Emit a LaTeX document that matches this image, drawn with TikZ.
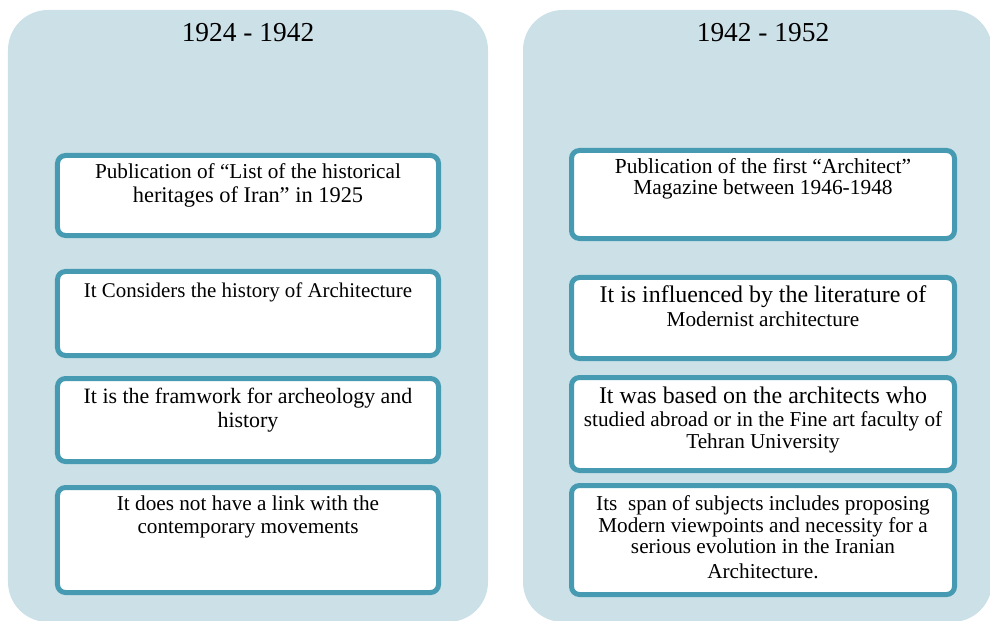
\documentclass[tikz,border=0pt]{standalone}
\usepackage{fontspec}
\setmainfont{Liberation Serif}
\usetikzlibrary{calc}
\definecolor{panelfill}{RGB}{204,224,231}
\definecolor{boxline}{RGB}{70,154,178}
\tikzset{
  panel/.style={fill=panelfill, draw=none, rounded corners=40bp, inner sep=0pt},
  card/.style={draw=boxline, line width=5bp, fill=white, rounded corners=8bp, inner sep=0pt},
  ln/.style={anchor=base, inner sep=0pt, text=black},
}
\newcommand{\fsz}[1]{\fontsize{#1}{#1}\selectfont}
\begin{document}
\begin{tikzpicture}[x=1bp,y=-1bp]
\useasboundingbox (0,0) rectangle (990,621);
% panels
\node[panel, minimum width=480bp, minimum height=612bp] (p1) at (248,316) {};
\node[panel, minimum width=469bp, minimum height=612bp] (p2) at (757.5,316) {};
% titles
\node[ln, font=\fsz{27.5}] (t1) at (248,42) {1924 - 1942};
\node[ln, font=\fsz{27.5}] (t2) at (763,42) {1942 - 1952};
% left cards
\node[card, minimum width=381bp, minimum height=80bp] (l1) at (248,195.5) {};
\node[card, minimum width=381bp, minimum height=84bp] (l2) at (248,313.5) {};
\node[card, minimum width=381bp, minimum height=83bp] (l3) at (248,420) {};
\node[card, minimum width=381bp, minimum height=105bp] (l4) at (248,540) {};
% right cards
\node[card, minimum width=383bp, minimum height=88bp] (r1) at (763,194.5) {};
\node[card, minimum width=383bp, minimum height=81bp] (r2) at (763,318) {};
\node[card, minimum width=383bp, minimum height=93bp] (r3) at (763,424) {};
\node[card, minimum width=383bp, minimum height=109bp] (r4) at (763,540) {};
% left texts
\node[ln, font=\fsz{21.3}] (l1a) at (248,179) {Publication of “List of the historical};
\node[ln, font=\fsz{22.5}] (l1b) at (248,203) {heritages of Iran” in 1925};
\node[ln, font=\fsz{21}] (l2a) at (248,297) {It Considers the history of Architecture};
\node[ln, font=\fsz{22}] (l3a) at (248,403) {It is the framwork for archeology and};
\node[ln, font=\fsz{22}] (l3b) at (248,427) {history};
\node[ln, font=\fsz{21.3}] (l4a) at (248,510) {It does not have a link with the};
\node[ln, font=\fsz{21.3}] (l4b) at (248,533) {contemporary movements};
% right texts
\node[ln, font=\fsz{21.5}] (r1a) at (763,174) {Publication of the first “Architect”};
\node[ln, font=\fsz{21.5}] (r1b) at (763,195) {Magazine between 1946-1948};
\node[ln, font=\fsz{24}] (r2a) at (763,302) {It is influenced by the literature of};
\node[ln, font=\fsz{21.3}] (r2b) at (763,326) {Modernist architecture};
\node[ln, font=\fsz{24}] (r3a) at (763,403) {It was based on the architects who};
\node[ln, font=\fsz{21.3}] (r3b) at (763,426) {studied abroad or in the Fine art faculty of};
\node[ln, font=\fsz{21.3}] (r3c) at (763,448) {Tehran University};
\node[ln, font=\fsz{21.3}] (r4a) at (763,510) {Its\ \ span of subjects includes proposing};
\node[ln, font=\fsz{21.3}] (r4b) at (763,532) {Modern viewpoints and necessity for a};
\node[ln, font=\fsz{21.3}] (r4c) at (763,553) {serious evolution in the Iranian};
\node[ln, font=\fsz{21.3}] (r4d) at (763,578) {Architecture.};
\end{tikzpicture}
\end{document}
